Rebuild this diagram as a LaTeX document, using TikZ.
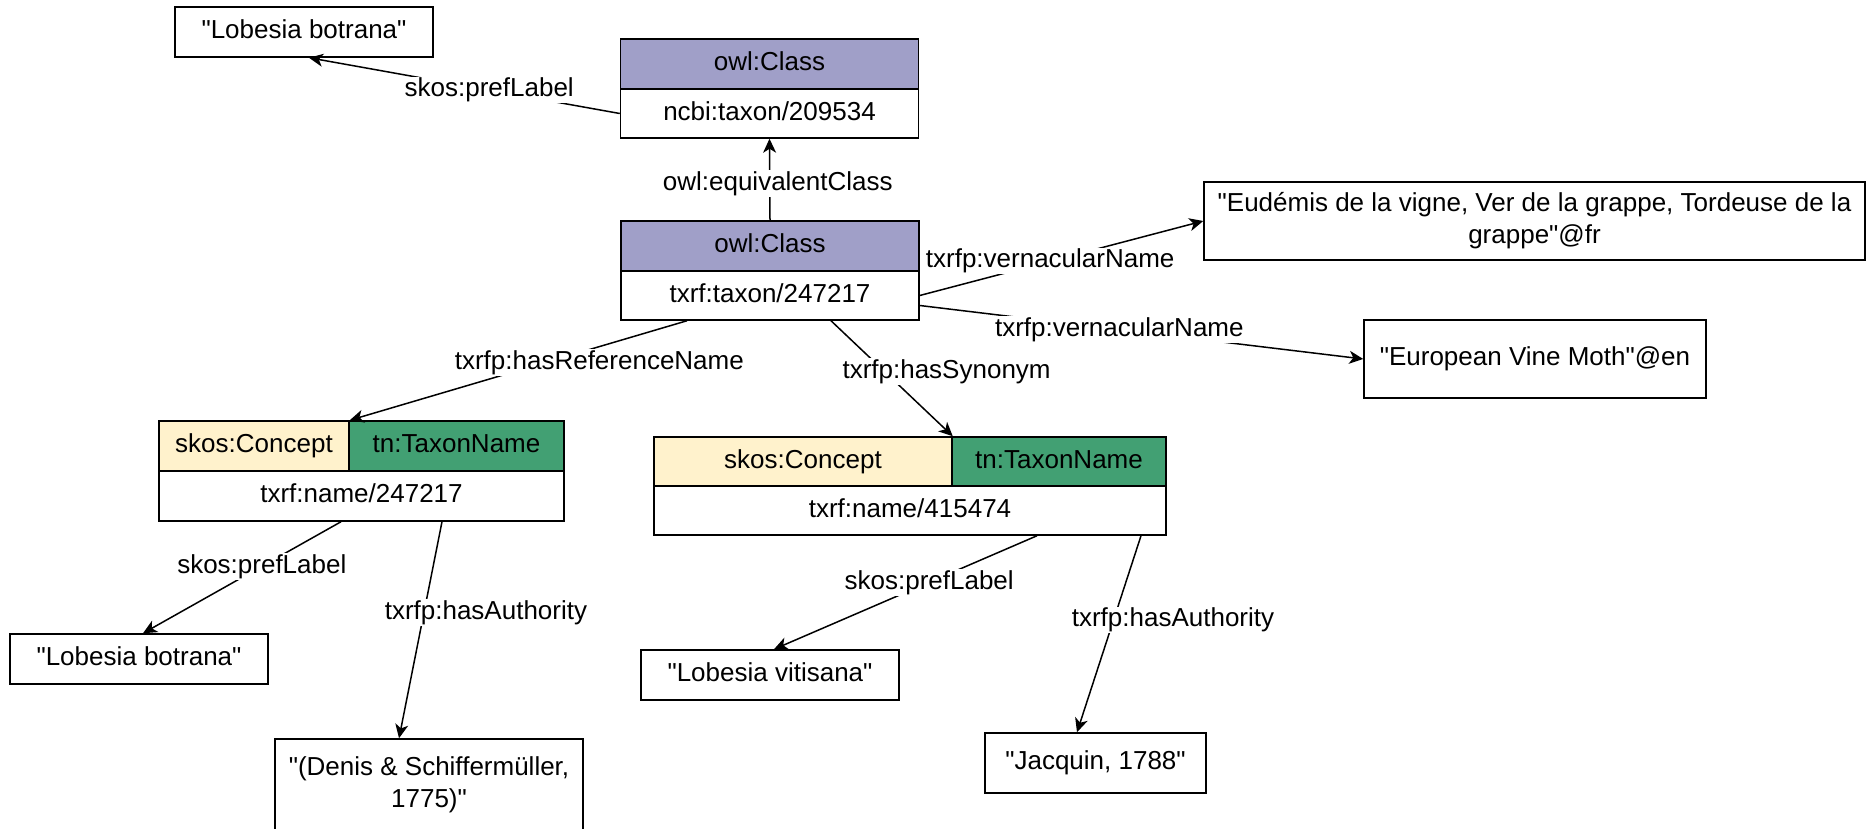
\documentclass[tikz,border=0pt]{standalone}
\usepackage{fontspec}
\setmainfont{Liberation Sans}[Ligatures=TeXOff]
\usepackage{xcolor}
\usepackage{tikz}
\usetikzlibrary{shapes,arrows,positioning,calc,arrows.meta}

\definecolor{classfill}{HTML}{A09FC8}
\definecolor{conceptfill}{HTML}{FFF2CC}
\definecolor{namefill}{HTML}{42A073}

\tikzset{
  box/.style={draw, line width=1.5pt, inner sep=0pt, text height=19pt, text depth=5.5pt},
  twoline/.style={draw, line width=1.5pt, inner sep=0pt, align=center},
  rel/.style={line width=1.5pt, -{Stealth[length=14pt,width=13pt,inset=4pt]}},
  lbl/.style={fill=white, inner sep=1pt, text height=19pt, text depth=5.5pt},
}

\begin{document}
\begin{tikzpicture}[x=1pt, y=-1pt, font=\fontsize{26}{32}\selectfont]
    \useasboundingbox (0,0) rectangle (1868,829);

    % Taxon classes
    \node[box, fill=classfill, minimum width=298pt, minimum height=50pt] (ncbiH) at (769.5,64) {owl:Class};
    \node[box, minimum width=298pt, minimum height=49pt] (ncbi) at (769.5,113.5) {ncbi:taxon/209534};
    \node[box, fill=classfill, minimum width=298pt, minimum height=50pt] (txrfH) at (770,246) {owl:Class};
    \node[box, minimum width=298pt, minimum height=49pt] (txrf) at (770,295.5) {txrf:taxon/247217};

    % Labels of the taxon
    \node[box, minimum width=258pt, minimum height=50pt] (lb1) at (304,32) {"Lobesia botrana"};
    \node[twoline, minimum width=661pt, minimum height=78pt] (eud) at (1534.5,221) {"Eudémis de la vigne, Ver de la grappe, Tordeuse de la\\grappe"@fr};
    \node[box, minimum width=342pt, minimum height=78pt] (evm) at (1535,359) {"European Vine Moth"@en};

    % Reference name
    \node[box, fill=conceptfill, minimum width=190pt, minimum height=50pt] (c1a) at (254,446) {skos:Concept};
    \node[box, fill=namefill, minimum width=215pt, minimum height=50pt] (c1b) at (456.5,446) {tn:TaxonName};
    \node[box, minimum width=405pt, minimum height=50pt] (c1) at (361.5,496) {txrf:name/247217};
    \node[box, minimum width=258pt, minimum height=50pt] (lb2) at (139,659) {"Lobesia botrana"};
    \node[twoline, minimum width=308pt, minimum height=92pt] (den) at (429,785) {"(Denis \& Schiffermüller,\\1775)"};

    % Synonym
    \node[box, fill=conceptfill, minimum width=298pt, minimum height=49pt] (c2a) at (803,461.5) {skos:Concept};
    \node[box, fill=namefill, minimum width=214pt, minimum height=49pt] (c2b) at (1059,461.5) {tn:TaxonName};
    \node[box, minimum width=512pt, minimum height=49pt] (c2) at (910,510.5) {txrf:name/415474};
    \node[box, minimum width=258pt, minimum height=50pt] (lv) at (770,675) {"Lobesia vitisana"};
    \node[box, minimum width=221pt, minimum height=60pt] (jac) at (1095.5,763) {"Jacquin, 1788"};

    % Properties
    \draw[rel] (ncbi.west) -- ($(lb1.south)+(5,0)$) node[lbl, pos=0.42] {skos:prefLabel};
    \draw[rel] (txrfH.north) -- (ncbi.south) node[lbl, pos=0.45, xshift=8pt] {owl:equivalentClass};
    \draw[rel] (txrf.east) -- (eud.west) node[lbl, pos=0.46] {txrfp:vernacularName};
    \draw[rel] ($(txrf.east)+(0,10)$) -- (evm.west) node[lbl, pos=0.45] {txrfp:vernacularName};
    \draw[rel] ($(txrf.south)+(-83,0)$) -- (c1a.north east) node[lbl, pos=0.26, yshift=-16pt] {txrfp:hasReferenceName};
    \draw[rel] ($(txrf.south)+(61,0)$) -- (c2a.north east) node[lbl, pos=0.44, xshift=62pt] {txrfp:hasSynonym};
    \draw[rel] ($(c1.south)+(-20.5,0)$) -- ($(lb2.north)+(4,0)$) node[lbl, pos=0.4] {skos:prefLabel};
    \draw[rel] ($(c1.south)+(80.5,0)$) -- ($(den.north)+(-30,0)$) node[lbl, pos=0.42, xshift=62pt] {txrfp:hasAuthority};
    \draw[rel] ($(c2.south)+(127,0)$) -- ($(lv.north)+(4,0)$) node[lbl, pos=0.41] {skos:prefLabel};
    \draw[rel] ($(c2.south)+(231,0)$) -- ($(jac.north)+(-18.5,0)$) node[lbl, pos=0.43, xshift=59.5pt] {txrfp:hasAuthority};
\end{tikzpicture}
\end{document}
